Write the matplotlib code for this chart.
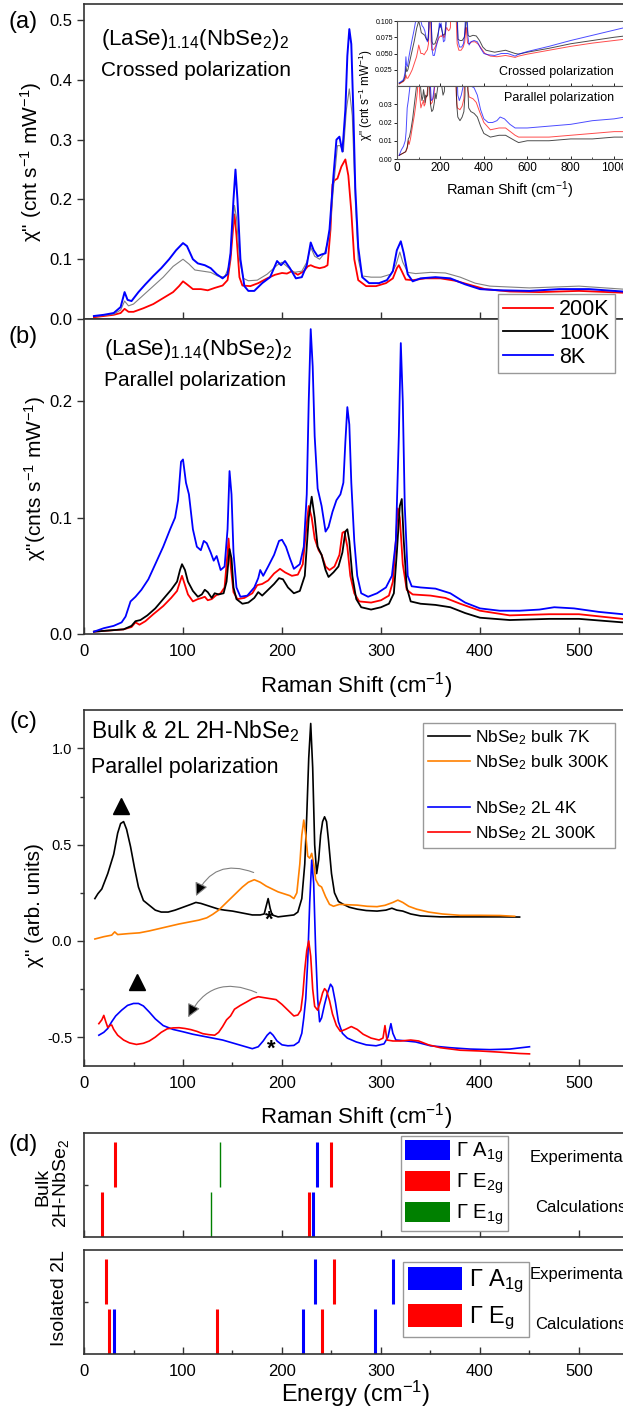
import matplotlib
matplotlib.use("Agg")
import matplotlib.pyplot as plt
from matplotlib.patches import Patch
from matplotlib.ticker import FormatStrFormatter, MultipleLocator

plt.rcParams['font.family'] = ['Liberation Sans', 'DejaVu Sans']
plt.rcParams['mathtext.fontset'] = 'custom'
plt.rcParams['mathtext.rm'] = 'Liberation Sans'
plt.rcParams['mathtext.it'] = 'Liberation Sans:italic'
plt.rcParams['mathtext.bf'] = 'Liberation Sans:bold'
plt.rcParams['mathtext.default'] = 'regular'
plt.rcParams['axes.unicode_minus'] = False

# ---- (a) crossed polarization, (LaSe)1.14(NbSe2)2 ----
a8_x = [10, 20, 30, 37, 41, 44, 48, 55, 62, 70, 78, 86, 93, 100, 104, 110, 115, 122, 128, 134, 140, 145, 148, 151,
        153, 155, 158, 162, 166, 172, 180, 188, 195, 199, 203, 208, 214, 220, 225, 229, 232, 236, 240, 244, 248, 252,
        255, 258, 261, 264, 266, 268, 270, 272, 274, 277, 281, 288, 298, 306, 312, 316, 320, 323, 327, 332, 340, 355,
        370, 385, 400, 420, 450, 480, 510, 544]
a8_y = [0.005, 0.007, 0.01, 0.02, 0.045, 0.032, 0.03, 0.045, 0.058, 0.072, 0.085, 0.1, 0.115, 0.127, 0.122, 0.1,
        0.093, 0.09, 0.085, 0.075, 0.068, 0.075, 0.11, 0.2, 0.25, 0.2, 0.1, 0.055, 0.047, 0.047, 0.06, 0.07, 0.097,
        0.09, 0.097, 0.085, 0.068, 0.07, 0.09, 0.128, 0.115, 0.105, 0.108, 0.11, 0.15, 0.24, 0.3, 0.305, 0.28, 0.35,
        0.44, 0.485, 0.46, 0.35, 0.22, 0.12, 0.07, 0.06, 0.06, 0.065, 0.08, 0.115, 0.13, 0.11, 0.075, 0.063, 0.068,
        0.07, 0.068, 0.058, 0.05, 0.048, 0.047, 0.05, 0.05, 0.046]

a100_x = [10, 20, 30, 37, 41, 45, 50, 60, 70, 80, 90, 100, 106, 112, 120, 128, 135, 142, 147, 150, 152, 154, 157,
          161, 166, 175, 185, 195, 200, 205, 212, 220, 225, 229, 233, 238, 243, 248, 252, 256, 259, 262, 265, 268,
          271, 274, 277, 281, 290, 300, 310, 315, 319, 322, 327, 335, 350, 365, 380, 395, 410, 450, 500, 544]
a100_y = [0.004, 0.006, 0.008, 0.015, 0.03, 0.022, 0.025, 0.04, 0.055, 0.07, 0.088, 0.1, 0.092, 0.082, 0.08, 0.078,
          0.072, 0.07, 0.09, 0.15, 0.19, 0.17, 0.1, 0.068, 0.064, 0.065, 0.075, 0.09, 0.095, 0.088, 0.078, 0.08,
          0.095, 0.12, 0.105, 0.1, 0.11, 0.14, 0.22, 0.29, 0.29, 0.28, 0.35, 0.385, 0.34, 0.2, 0.1, 0.072, 0.07,
          0.07, 0.075, 0.09, 0.112, 0.095, 0.078, 0.076, 0.078, 0.077, 0.07, 0.06, 0.055, 0.052, 0.055, 0.05]

a200_x = [10, 20, 30, 37, 41, 45, 50, 60, 70, 80, 90, 96, 100, 104, 110, 118, 125, 132, 140, 145, 148, 151, 152, 154,
          157, 160, 168, 176, 185, 193, 200, 205, 210, 216, 222, 226, 229, 233, 238, 243, 246, 249, 251, 253, 256,
          260, 264, 267, 270, 273, 277, 285, 295, 305, 312, 316, 318, 321, 325, 332, 345, 360, 375, 390, 405, 430,
          460, 500, 544]
a200_y = [0.003, 0.005, 0.007, 0.01, 0.017, 0.012, 0.012, 0.018, 0.025, 0.035, 0.045, 0.055, 0.063, 0.058, 0.05,
          0.05, 0.048, 0.052, 0.056, 0.065, 0.1, 0.16, 0.175, 0.14, 0.07, 0.056, 0.055, 0.06, 0.068, 0.074, 0.077,
          0.076, 0.08, 0.074, 0.08, 0.088, 0.09, 0.087, 0.085, 0.087, 0.09, 0.15, 0.225, 0.232, 0.235, 0.255, 0.267,
          0.24, 0.18, 0.1, 0.065, 0.055, 0.055, 0.06, 0.068, 0.085, 0.09, 0.08, 0.066, 0.065, 0.068, 0.068, 0.064,
          0.057, 0.05, 0.046, 0.045, 0.047, 0.044]

# ---- (b) parallel polarization ----
b8_x = [10, 20, 30, 38, 42, 47, 52, 58, 65, 72, 80, 87, 92, 95, 98, 100, 103, 106, 110, 114, 118, 121, 124, 128, 131,
        134, 138, 142, 145, 147, 149, 151, 154, 158, 165, 172, 176, 178, 181, 186, 192, 197, 200, 204, 208, 212, 218,
        222, 225, 227, 229, 231, 233, 236, 240, 244, 247, 251, 255, 259, 262, 264, 266, 268, 270, 273, 276, 280, 287,
        296, 305, 311, 315, 318, 320, 322, 324, 327, 331, 340, 355, 370, 385, 400, 420, 440, 460, 475, 495, 520, 544]
b8_y = [0.002, 0.005, 0.007, 0.01, 0.015, 0.028, 0.032, 0.038, 0.047, 0.06, 0.075, 0.09, 0.1, 0.115, 0.148, 0.15,
        0.13, 0.12, 0.09, 0.075, 0.072, 0.08, 0.078, 0.07, 0.063, 0.067, 0.055, 0.058, 0.09, 0.14, 0.12, 0.07, 0.04,
        0.032, 0.033, 0.04, 0.048, 0.055, 0.05, 0.058, 0.068, 0.08, 0.081, 0.075, 0.065, 0.056, 0.06, 0.075, 0.12,
        0.2, 0.262, 0.23, 0.17, 0.125, 0.11, 0.088, 0.092, 0.105, 0.115, 0.12, 0.13, 0.165, 0.195, 0.18, 0.13, 0.08,
        0.05, 0.035, 0.032, 0.035, 0.04, 0.05, 0.08, 0.17, 0.25, 0.2, 0.11, 0.05, 0.041, 0.04, 0.039, 0.035, 0.027,
        0.022, 0.02, 0.02, 0.021, 0.023, 0.022, 0.019, 0.017]

b100_x = [10, 25, 40, 48, 52, 57, 64, 72, 80, 88, 94, 97, 99, 102, 105, 110, 115, 119, 122, 125, 129, 132, 136, 141,
          144, 147, 149, 151, 154, 160, 166, 172, 176, 180, 186, 192, 197, 201, 206, 212, 218, 223, 227, 230, 233,
          236, 240, 244, 247, 252, 257, 261, 264, 266, 268, 271, 275, 280, 290, 300, 308, 313, 316, 319, 321, 323,
          326, 330, 340, 355, 370, 385, 400, 430, 470, 500, 544]
b100_y = [0.002, 0.003, 0.004, 0.007, 0.011, 0.012, 0.016, 0.022, 0.03, 0.038, 0.045, 0.055, 0.06, 0.055, 0.045,
          0.037, 0.032, 0.034, 0.038, 0.036, 0.031, 0.035, 0.034, 0.035, 0.045, 0.073, 0.065, 0.04, 0.03, 0.026,
          0.027, 0.031, 0.036, 0.033, 0.038, 0.043, 0.048, 0.047, 0.04, 0.035, 0.037, 0.05, 0.1, 0.118, 0.1, 0.075,
          0.068, 0.055, 0.049, 0.053, 0.058, 0.07, 0.088, 0.09, 0.08, 0.05, 0.03, 0.023, 0.021, 0.023, 0.026, 0.035,
          0.07, 0.11, 0.116, 0.08, 0.04, 0.028, 0.026, 0.025, 0.023, 0.018, 0.014, 0.012, 0.013, 0.013, 0.01]

b200_x = [10, 25, 40, 48, 52, 56, 62, 70, 80, 88, 94, 97, 99, 102, 105, 110, 115, 119, 122, 125, 129, 133, 138, 142,
          145, 146, 148, 151, 155, 162, 170, 175, 180, 186, 192, 198, 203, 210, 216, 221, 225, 227, 230, 233, 237,
          240, 244, 248, 253, 258, 261, 263, 266, 269, 273, 278, 290, 300, 308, 312, 315, 317, 319, 322, 326, 332,
          350, 365, 380, 400, 430, 470, 500, 544]
b200_y = [0.002, 0.003, 0.004, 0.006, 0.01, 0.008, 0.011, 0.017, 0.024, 0.031, 0.037, 0.045, 0.05, 0.042, 0.034,
          0.028, 0.03, 0.031, 0.032, 0.029, 0.03, 0.033, 0.035, 0.04, 0.07, 0.082, 0.06, 0.036, 0.03, 0.031, 0.035,
          0.042, 0.043, 0.046, 0.052, 0.056, 0.053, 0.05, 0.051, 0.06, 0.095, 0.11, 0.1, 0.082, 0.072, 0.068, 0.058,
          0.055, 0.058, 0.068, 0.087, 0.088, 0.075, 0.05, 0.035, 0.028, 0.027, 0.029, 0.033, 0.045, 0.08, 0.108, 0.1,
          0.06, 0.038, 0.034, 0.033, 0.031, 0.026, 0.02, 0.016, 0.017, 0.017, 0.013]

# ---- inset: high-frequency continuation (560-1050 cm-1) ----
ins_x = [560, 600, 700, 800, 900, 1000, 1050]
ins_cross_8 = [0.049, 0.053, 0.061, 0.07, 0.078, 0.086, 0.09]
ins_cross_100 = [0.049, 0.052, 0.058, 0.065, 0.07, 0.075, 0.077]
ins_cross_200 = [0.046, 0.049, 0.055, 0.061, 0.066, 0.07, 0.072]
ins_par_8 = [0.017, 0.017, 0.018, 0.019, 0.021, 0.022, 0.023]
ins_par_100 = [0.009, 0.01, 0.01, 0.011, 0.011, 0.012, 0.012]
ins_par_200 = [0.012, 0.012, 0.012, 0.013, 0.014, 0.015, 0.015]

# ---- (c) bulk & 2L 2H-NbSe2 ----
cb7_x = [11, 14, 18, 24, 30, 34, 37, 40, 43, 47, 51, 55, 60, 66, 72, 78, 85, 92, 100, 108, 113, 118, 124, 130, 136,
         142, 150, 160, 170, 178, 182, 184, 186, 188, 190, 196, 204, 212, 216, 220, 223, 225, 227, 229, 231, 233, 235,
         237, 239, 241, 243, 245, 247, 250, 253, 257, 262, 268, 276, 285, 296, 305, 311, 316, 322, 330, 340, 360, 390,
         420, 440]
cb7_y = [0.22, 0.245, 0.27, 0.35, 0.45, 0.56, 0.61, 0.62, 0.58, 0.49, 0.38, 0.28, 0.21, 0.185, 0.16, 0.15, 0.15, 0.16,
         0.175, 0.19, 0.2, 0.195, 0.185, 0.175, 0.165, 0.16, 0.155, 0.145, 0.135, 0.135, 0.14, 0.18, 0.22, 0.17,
         0.135, 0.125, 0.13, 0.135, 0.15, 0.22, 0.4, 0.65, 0.95, 1.13, 0.9, 0.5, 0.35, 0.42, 0.55, 0.62, 0.645, 0.62,
         0.52, 0.35, 0.25, 0.205, 0.19, 0.175, 0.165, 0.158, 0.155, 0.16, 0.17, 0.16, 0.155, 0.14, 0.13, 0.125,
         0.125, 0.125, 0.124]

cb300_x = [11, 20, 28, 31, 34, 45, 56, 66, 76, 86, 96, 106, 116, 124, 130, 136, 142, 148, 154, 160, 166, 172, 178,
           184, 190, 196, 202, 208, 212, 215, 218, 220, 222, 224, 226, 228, 230, 232, 234, 237, 240, 244, 248, 252,
           258, 266, 276, 286, 296, 304, 312, 317, 322, 328, 336, 348, 362, 380, 400, 420, 435]
cb300_y = [0.01, 0.022, 0.03, 0.047, 0.033, 0.038, 0.042, 0.052, 0.064, 0.076, 0.088, 0.098, 0.108, 0.12, 0.138,
           0.16, 0.19, 0.22, 0.25, 0.28, 0.305, 0.318, 0.305, 0.285, 0.27, 0.255, 0.245, 0.235, 0.22, 0.25, 0.4,
           0.55, 0.628, 0.55, 0.44, 0.43, 0.455, 0.4, 0.32, 0.29, 0.28, 0.23, 0.19, 0.18, 0.19, 0.188, 0.186, 0.18,
           0.178, 0.185, 0.2, 0.212, 0.2, 0.18, 0.165, 0.15, 0.14, 0.133, 0.133, 0.132, 0.128]

c2l4_x = [15, 20, 24, 28, 32, 38, 44, 50, 55, 60, 66, 72, 80, 90, 100, 110, 120, 130, 140, 150, 160, 170, 176, 181,
          185, 188, 191, 195, 200, 206, 212, 217, 220, 222, 224, 226, 228, 230, 232, 234, 236, 238, 240, 243, 246,
          249, 251, 254, 257, 261, 266, 275, 285, 295, 303, 307, 310, 312, 315, 322, 335, 350, 370, 390, 410, 430,
          450]
c2l4_y = [-0.49, -0.475, -0.455, -0.42, -0.39, -0.36, -0.335, -0.325, -0.325, -0.338, -0.37, -0.405, -0.44, -0.46,
          -0.472, -0.485, -0.495, -0.505, -0.515, -0.53, -0.545, -0.56, -0.55, -0.52, -0.49, -0.475, -0.49, -0.52,
          -0.54, -0.545, -0.543, -0.525, -0.48, -0.4, -0.3, -0.1, 0.2, 0.42, 0.3, -0.05, -0.3, -0.42, -0.4, -0.33,
          -0.27, -0.225, -0.24, -0.32, -0.42, -0.48, -0.505, -0.525, -0.54, -0.545, -0.535, -0.5, -0.43, -0.48,
          -0.515, -0.518, -0.525, -0.545, -0.555, -0.562, -0.565, -0.562, -0.55]

c2l300_x = [15, 18, 20, 22, 24, 26, 28, 30, 34, 40, 46, 53, 60, 66, 72, 78, 84, 90, 96, 102, 108, 114, 120, 126, 132,
            136, 140, 144, 148, 152, 158, 164, 170, 176, 182, 188, 194, 200, 206, 212, 216, 219, 221, 223, 225, 227,
            229, 231, 233, 236, 239, 241, 243, 245, 248, 251, 255, 259, 264, 270, 276, 282, 290, 298, 302, 304, 306,
            312, 320, 330, 338, 348, 360, 380, 400, 420, 440, 450]
c2l300_y = [-0.43, -0.41, -0.387, -0.42, -0.45, -0.44, -0.437, -0.46, -0.49, -0.515, -0.53, -0.538, -0.532, -0.52,
            -0.5, -0.475, -0.457, -0.452, -0.451, -0.455, -0.461, -0.47, -0.482, -0.487, -0.49, -0.475, -0.445,
            -0.41, -0.39, -0.355, -0.335, -0.318, -0.3, -0.29, -0.295, -0.3, -0.305, -0.33, -0.36, -0.39, -0.385,
            -0.36, -0.28, -0.15, -0.05, 0.0, -0.08, -0.25, -0.34, -0.36, -0.31, -0.27, -0.248, -0.26, -0.31, -0.38,
            -0.44, -0.47, -0.46, -0.445, -0.46, -0.485, -0.505, -0.515, -0.505, -0.44, -0.515, -0.52, -0.52, -0.515,
            -0.52, -0.54, -0.555, -0.568, -0.572, -0.578, -0.585, -0.587]

# ---- (d) phonon energies (cm-1) ----
bulk_exp_x = [31, 137, 235, 249]
bulk_exp_mode = ['E2g', 'E1g', 'A1g', 'E2g']
bulk_calc_x = [18, 128, 227, 231]
bulk_calc_mode = ['E2g', 'E1g', 'E2g', 'A1g']
l2_exp_x = [22, 233, 253, 312]
l2_exp_mode = ['Eg', 'A1g', 'Eg', 'A1g']
l2_calc_x = [25, 30, 134, 221, 240, 294]
l2_calc_mode = ['Eg', 'A1g', 'Eg', 'A1g', 'Eg', 'A1g']
mode_color = {'A1g': 'blue', 'E2g': 'red', 'E1g': 'green', 'Eg': 'red'}

W, H = 623, 1409
fig = plt.figure(figsize=(W / 100, H / 100), dpi=100)


def box(l, t, r, b):
    return [l / W, 1 - b / H, (r - l) / W, (b - t) / H]


def ftext(x, y, s, **kw):
    fig.text(x / W, 1 - y / H, s, **kw)


XR = 84 + 550 * 0.99
SP = '#333333'


def style(ax, ysize=12):
    for s in ax.spines.values():
        s.set_color(SP)
        s.set_linewidth(1.2)
    ax.tick_params(axis='y', direction='out', length=5, width=1, labelsize=ysize, colors=SP, labelcolor='black')
    ax.tick_params(axis='x', direction='in', length=5, width=1, labelsize=12, colors=SP, labelcolor='black', pad=7)
    ax.tick_params(which='minor', axis='x', direction='in', length=3, width=1, colors=SP)


# panel (a)
ax_a = fig.add_axes(box(84, 4, XR, 319))
ax_a.plot(a200_x, a200_y, color='red', lw=1.3)
ax_a.plot(a100_x, a100_y, color='gray', lw=0.8)
ax_a.plot(a8_x, a8_y, color='blue', lw=1.4)
ax_a.set_xlim(0, 550)
ax_a.set_ylim(0, 0.527)
ax_a.set_yticks([0, 0.1, 0.2, 0.3, 0.4, 0.5])
ax_a.yaxis.set_major_formatter(FormatStrFormatter('%.1f'))
ax_a.set_xticks([100, 200, 300, 400, 500])
ax_a.tick_params(labelbottom=False)
style(ax_a)

# panel (b)
ax_b = fig.add_axes(box(84, 319, XR, 634))
ax_b.plot(b200_x, b200_y, color='red', lw=1.3, label='200K')
ax_b.plot(b100_x, b100_y, color='black', lw=1.3, label='100K')
ax_b.plot(b8_x, b8_y, color='blue', lw=1.3, label='8K')
ax_b.set_xlim(0, 550)
ax_b.set_ylim(0, 0.2707)
ax_b.set_yticks([0, 0.1, 0.2])
ax_b.yaxis.set_major_formatter(FormatStrFormatter('%.1f'))
ax_b.set_xticks([0, 100, 200, 300, 400, 500])
style(ax_b)
leg = ax_b.legend(loc='upper left', bbox_to_anchor=(498 / W, 1 - 294 / H), bbox_transform=fig.transFigure,
                  borderaxespad=0, fontsize=15.5, handlelength=2.3, handletextpad=0.3, labelspacing=0.12,
                  borderpad=0.25, fancybox=False, framealpha=1, edgecolor='#999999')
leg.get_frame().set_linewidth(1.0)

# inset of (a)
ins_t = fig.add_axes(box(397, 21, 625, 86))
ins_b = fig.add_axes(box(397, 86, 625, 159))
for ax, xs, rows in [(ins_t, [a200_x, a100_x, a8_x], [(a200_y, ins_cross_200), (a100_y, ins_cross_100), (a8_y, ins_cross_8)]),
                     (ins_b, [b200_x, b100_x, b8_x], [(b200_y, ins_par_200), (b100_y, ins_par_100), (b8_y, ins_par_8)])]:
    for x, (y, yext), c in zip(xs, rows, ['red', 'black', 'blue']):
        ax.plot(list(x) + ins_x, list(y) + yext, color=c, lw=0.7, alpha=0.7)
    ax.set_xlim(0, 1050)
    for s in ax.spines.values():
        s.set_color('#555555')
        s.set_linewidth(0.8)
    ax.tick_params(axis='y', direction='out', length=2, width=0.6, labelsize=5, pad=1)
    ax.tick_params(axis='x', direction='in', length=2.5, width=0.6, labelsize=8.5, pad=2)
    ax.xaxis.set_minor_locator(MultipleLocator(100))
    ax.tick_params(which='minor', axis='x', direction='in', length=1.5, width=0.5)
    ax.set_xticks([0, 200, 400, 600, 800, 1000])
ins_t.set_ylim(0, 0.1)
ins_t.set_yticks([0.025, 0.05, 0.075, 0.1])
ins_t.yaxis.set_major_formatter(FormatStrFormatter('%.3f'))
ins_t.tick_params(labelbottom=False)
ins_b.set_ylim(0, 0.04)
ins_b.set_yticks([0, 0.01, 0.02, 0.03])
ins_b.yaxis.set_major_formatter(FormatStrFormatter('%.2f'))
ins_t.text(1000, 0.022, 'Crossed polarization', ha='right', va='center', fontsize=9)
ins_b.text(1000, 0.0335, 'Parallel polarization', ha='right', va='center', fontsize=9)
ftext(366, 95, 'χ" (cnt s$^{-1}$ mW$^{-1}$)', rotation=90, ha='center', va='center', fontsize=8.5)
ftext(510, 190, 'Raman Shift (cm$^{-1}$)', ha='center', va='center', fontsize=10.5)

# panel (c)
ax_c = fig.add_axes(box(84, 710, XR, 1066))
ax_c.plot(cb7_x, cb7_y, color='black', lw=1.2, label='NbSe$_2$ bulk 7K')
ax_c.plot(cb300_x, cb300_y, color='#ff8000', lw=1.2, label='NbSe$_2$ bulk 300K')
ax_c.plot([], [], color='none', label=' ')
ax_c.plot(c2l4_x, c2l4_y, color='blue', lw=1.2, label='NbSe$_2$ 2L 4K')
ax_c.plot(c2l300_x, c2l300_y, color='red', lw=1.2, label='NbSe$_2$ 2L 300K')
ax_c.set_xlim(0, 550)
ax_c.set_ylim(-0.65, 1.2)
ax_c.set_yticks([-0.5, 0, 0.5, 1.0])
ax_c.yaxis.set_minor_locator(MultipleLocator(0.25))
ax_c.yaxis.set_major_formatter(FormatStrFormatter('%.1f'))
ax_c.set_xticks([0, 100, 200, 300, 400, 500])
ax_c.xaxis.set_minor_locator(MultipleLocator(50))
style(ax_c, ysize=10.5)
ax_c.tick_params(which='minor', axis='y', direction='out', length=3, width=1, colors=SP)
ax_c.legend(loc='upper left', bbox_to_anchor=(423 / W, 1 - 723 / H), bbox_transform=fig.transFigure,
            borderaxespad=0, fontsize=12.5, handlelength=2.4, handletextpad=0.3, labelspacing=0.36,
            borderpad=0.3, fancybox=False, framealpha=1, edgecolor='#999999')
ax_c.plot([37.6, 53.6], [0.70, -0.215], ls='none', marker='^', color='black', ms=11)
ax_c.text(187, 0.11, '*', ha='center', va='center', fontsize=16, fontweight='bold')
ax_c.text(189, -0.565, '*', ha='center', va='center', fontsize=16, fontweight='bold')
for start, end in [((174, 0.35), (112, 0.22)), ((177, -0.275), (104, -0.41))]:
    ax_c.annotate('', xy=end, xytext=start,
                  arrowprops=dict(arrowstyle='-|>', ec='gray', fc='black', lw=0.8, mutation_scale=20,
                                  connectionstyle='arc3,rad=0.5'))

# panel (d)
ax_d1 = fig.add_axes(box(84, 1133, XR, 1237))
ax_d2 = fig.add_axes(box(84, 1250, XR, 1354))
for ax, ex, em, cx, cm in [(ax_d1, bulk_exp_x, bulk_exp_mode, bulk_calc_x, bulk_calc_mode),
                           (ax_d2, l2_exp_x, l2_exp_mode, l2_calc_x, l2_calc_mode)]:
    for x, m in zip(ex, em):
        ax.vlines(x, 0.48, 0.91, color=mode_color[m], lw=1.0 if m == 'E1g' else 2.2)
    for x, m in zip(cx, cm):
        ax.vlines(x, 0.0, 0.43, color=mode_color[m], lw=1.0 if m == 'E1g' else 2.2)
    ax.set_xlim(0, 550)
    ax.set_ylim(0, 1)
    ax.set_yticks([0.5])
    ax.set_yticklabels([])
    ax.set_xticks([0, 100, 200, 300, 400, 500])
    style(ax)
    ax.tick_params(axis='y', direction='in', length=3)
    ax.text(450, 0.76, 'Experimental', ha='left', va='center', fontsize=12)
    ax.text(456, 0.28, 'Calculations', ha='left', va='center', fontsize=12)
ax_d1.tick_params(labelbottom=False)
ax_d2.xaxis.set_minor_locator(MultipleLocator(50))
h1 = [Patch(fc='blue', ec='none', label='Γ A$_{1g}$'), Patch(fc='red', ec='none', label='Γ E$_{2g}$'),
      Patch(fc='green', ec='none', label='Γ E$_{1g}$')]
ax_d1.legend(handles=h1, loc='upper left', bbox_to_anchor=(401 / W, 1 - 1136 / H), bbox_transform=fig.transFigure,
             borderaxespad=0, fontsize=14.5, handlelength=2.25, handleheight=1.15, handletextpad=0.3,
             labelspacing=0.3, borderpad=0.2, fancybox=False, framealpha=1, edgecolor='#999999')
h2 = [Patch(fc='blue', ec='none', label='Γ A$_{1g}$'), Patch(fc='red', ec='none', label='Γ E$_{g}$')]
ax_d2.legend(handles=h2, loc='upper left', bbox_to_anchor=(403 / W, 1 - 1262 / H), bbox_transform=fig.transFigure,
             borderaxespad=0, fontsize=17, handlelength=2.3, handleheight=1.15, handletextpad=0.3,
             labelspacing=0.35, borderpad=0.2, fancybox=False, framealpha=1, edgecolor='#999999')

# labels
ftext(23, 22, '(a)', fontsize=17, ha='center', va='center')
ftext(23, 337, '(b)', fontsize=17, ha='center', va='center')
ftext(23, 722, '(c)', fontsize=17, ha='center', va='center')
ftext(23, 1145, '(d)', fontsize=17, ha='center', va='center')
ftext(101, 40, '(LaSe)$_{1.14}$(NbSe$_2$)$_2$', fontsize=16, va='center')
ftext(101, 71, 'Crossed polarization', fontsize=15, va='center')
ftext(104, 350, '(LaSe)$_{1.14}$(NbSe$_2$)$_2$', fontsize=16, va='center')
ftext(104, 380, 'Parallel polarization', fontsize=15, va='center')
ftext(91, 731, 'Bulk & 2L 2H-NbSe$_2$', fontsize=16.5, va='center')
ftext(91, 768, 'Parallel polarization', fontsize=15.5, va='center')
ftext(31, 162, 'χ" (cnt s$^{-1}$ mW$^{-1}$)', rotation=90, ha='center', va='center', fontsize=15)
ftext(35, 478, 'χ"(cnts s$^{-1}$ mW$^{-1}$)', rotation=90, ha='center', va='center', fontsize=15)
ftext(35, 905, 'χ" (arb. units)', rotation=90, ha='center', va='center', fontsize=15)
ftext(356, 686, 'Raman Shift (cm$^{-1}$)', ha='center', va='center', fontsize=16)
ftext(356, 1117, 'Raman Shift (cm$^{-1}$)', ha='center', va='center', fontsize=16)
ftext(356, 1394, 'Energy (cm$^{-1}$)', ha='center', va='center', fontsize=17)
ftext(43, 1187, 'Bulk', rotation=90, ha='center', va='center', fontsize=14)
ftext(61, 1183, '2H-NbSe$_2$', rotation=90, ha='center', va='center', fontsize=14)
ftext(60, 1298, 'Isolated 2L', rotation=90, ha='center', va='center', fontsize=14)

fig.savefig('out.png', dpi=100)
